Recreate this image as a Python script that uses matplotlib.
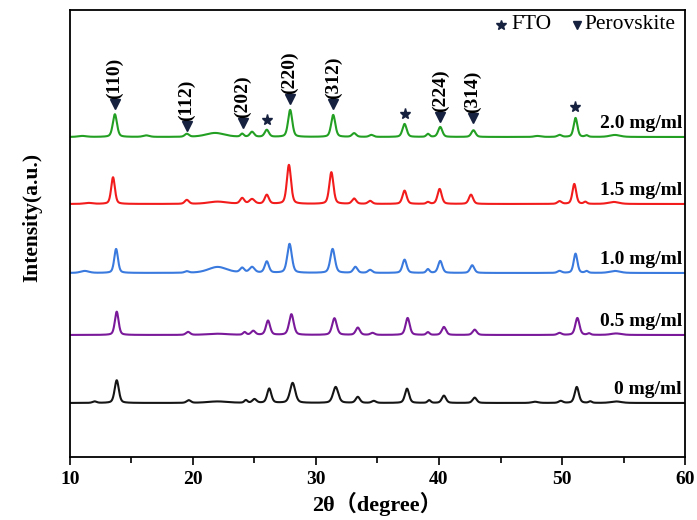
import numpy as np
import matplotlib
matplotlib.use("Agg")
import matplotlib.pyplot as plt

plt.rcParams['font.family'] = ['Liberation Serif', 'Noto Sans CJK SC']
plt.rcParams['mathtext.fontset'] = 'stix'

# sample labels, colours and vertical offsets (bottom to top)
labels = ["0 mg/ml", "0.5 mg/ml", "1.0 mg/ml", "1.5 mg/ml", "2.0 mg/ml"]
colors = ["#151515", "#7a1a9a", "#3a7ade", "#f21c1c", "#23a023"]
offsets = [54, 122, 184, 253, 320]

# peak tables: (2theta, height, half width)
peaks_0 = [(12.0, 1.5, 0.2), (13.8, 22.7, 0.2), (19.65, 2.7, 0.2), (22.0, 1.5, 1.0),
           (24.3, 2.7, 0.15), (25.0, 3.7, 0.2), (26.2, 14.3, 0.2), (28.1, 20, 0.25),
           (31.6, 16, 0.25), (33.4, 6, 0.2), (34.7, 2, 0.2), (37.4, 14.3, 0.2),
           (39.2, 2.7, 0.15), (40.4, 7.3, 0.2), (42.9, 5.3, 0.2), (47.8, 1.2, 0.3),
           (49.9, 2, 0.2), (51.2, 16, 0.2), (52.3, 1.5, 0.15), (54.4, 1.5, 0.5)]
peaks_05 = [(13.8, 23.3, 0.18), (19.6, 3, 0.2), (22.0, 1.2, 1.0), (24.2, 2.7, 0.15),
            (24.9, 4, 0.2), (26.1, 14.3, 0.2), (28.0, 20.7, 0.22), (31.5, 16.7, 0.22),
            (33.4, 7.3, 0.2), (34.6, 2, 0.2), (37.45, 17, 0.2), (39.1, 2.7, 0.15),
            (40.4, 8, 0.2), (42.9, 5.3, 0.2), (49.8, 2, 0.2), (51.25, 17, 0.2),
            (52.2, 1.5, 0.15), (54.4, 1.5, 0.5)]
peaks_10 = [(11.2, 2, 0.4), (13.75, 24, 0.18), (19.5, 1.5, 0.2), (22.0, 6, 0.9),
            (24.0, 4.7, 0.2), (24.8, 5.7, 0.25), (26.0, 11.3, 0.2), (27.85, 29, 0.22),
            (31.35, 24, 0.22), (33.2, 6, 0.2), (34.4, 3, 0.2), (37.2, 13.3, 0.2),
            (39.1, 3.7, 0.15), (40.1, 12, 0.2), (42.7, 7.7, 0.2), (49.8, 2, 0.2),
            (51.1, 19.3, 0.18), (52.0, 1.8, 0.15), (54.3, 2, 0.5)]
peaks_15 = [(11.5, 1, 0.4), (13.5, 26.7, 0.18), (19.5, 4, 0.2), (22.0, 2.3, 0.9),
            (24.0, 5.7, 0.2), (24.8, 4.7, 0.25), (26.0, 9, 0.2), (27.8, 39, 0.2),
            (31.25, 31.7, 0.2), (33.1, 5.3, 0.2), (34.4, 3, 0.2), (37.2, 13.3, 0.2),
            (39.1, 1.8, 0.15), (40.05, 15, 0.2), (42.6, 9.3, 0.2), (49.8, 2.7, 0.2),
            (51.0, 20, 0.18), (51.9, 2, 0.15), (54.2, 2, 0.5)]
peaks_20 = [(11.0, 1, 0.4), (13.65, 22.7, 0.2), (16.2, 1.5, 0.3), (19.5, 3, 0.2),
            (21.8, 4, 0.9), (24.0, 3, 0.15), (24.8, 5, 0.2), (26.0, 7, 0.2),
            (27.9, 27, 0.2), (31.4, 22, 0.2), (33.1, 3.7, 0.2), (34.5, 2, 0.2),
            (37.2, 13, 0.2), (39.1, 3, 0.15), (40.1, 10, 0.2), (42.8, 6.7, 0.2),
            (48.0, 1, 0.3), (49.8, 2, 0.2), (51.1, 19, 0.18), (52.0, 1.5, 0.15),
            (54.3, 2, 0.5)]
peak_tables = [peaks_0, peaks_05, peaks_10, peaks_15, peaks_20]

# marker annotations (2theta, height in plot units)
perov_x = [13.65, 19.5, 24.05, 27.85, 31.4, 40.1, 42.75]
perov_y = [353, 331, 334, 358, 353, 340, 339]
perov_hkl = ["(110)", "(112)", "(202)", "(220)", "(312)", "(224)", "(314)"]
fto_x = [26.0, 37.2, 51.05]
fto_y = [337, 343, 350]

mark_color = "#16213f"

two_theta = np.linspace(10, 60, 5001)


def pattern(table):
    y = np.zeros_like(two_theta)
    for pos, h, w in table:
        g = np.exp(-np.log(2) * ((two_theta - pos) / w) ** 2)
        lz = 1.0 / (1.0 + ((two_theta - pos) / w) ** 2)
        y += h * (0.6 * g + 0.4 * lz)
    return y


fig = plt.figure(figsize=(6.97, 5.2), dpi=100)
ax = fig.add_axes([0.1004, 0.1212, 0.8824, 0.8596])

for table, off, c, lab in zip(peak_tables, offsets, colors, labels):
    ax.plot(two_theta, pattern(table) + off, color=c, lw=1.5)
    ax.text(59.75, off + 13, lab, ha='right', va='center', fontsize=14,
            fontweight='bold')

ax.plot(perov_x, perov_y, 'v', color=mark_color, ms=6.5, ls='none')
ax.plot(fto_x, fto_y, '*', color=mark_color, ms=8, ls='none')
for x, y, t in zip(perov_x, perov_y, perov_hkl):
    ax.text(x, y + 5, t, rotation=90, ha='center', va='bottom', fontsize=14,
            fontweight='bold')

# legend drawn by hand like the original
ax.plot([45.0], [432], '*', color=mark_color, ms=7.5)
ax.text(45.85, 432, "FTO", va='center', ha='left', fontsize=15.5)
ax.plot([51.2], [432], 'v', color=mark_color, ms=6)
ax.text(51.8, 432, "Perovskite", va='center', ha='left', fontsize=15.5)

ax.set_xlim(10, 60)
ax.set_ylim(0, 447)
ax.set_xticks([10, 20, 30, 40, 50, 60])
ax.set_xticks(np.arange(15, 60, 10), minor=True)
ax.set_yticks([])
ax.tick_params(axis='x', which='major', direction='out', length=6, width=1.2,
               labelsize=14, pad=4)
ax.tick_params(axis='x', which='minor', direction='out', length=4, width=1.2)
for lbl in ax.get_xticklabels():
    lbl.set_fontweight('bold')
for s in ax.spines.values():
    s.set_linewidth(1.3)

ax.set_xlabel("2θ（degree）", fontsize=16, fontweight='bold', labelpad=3)
ax.set_ylabel("Intensity(a.u.)", fontsize=15.5, fontweight='bold', labelpad=20,
              y=0.535)

fig.savefig("out.png", dpi=100)
